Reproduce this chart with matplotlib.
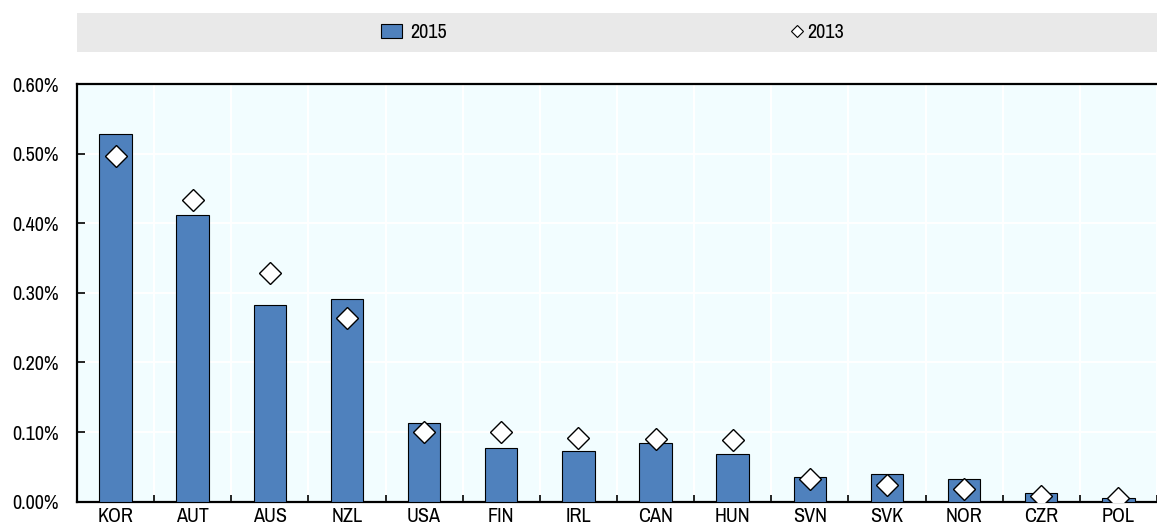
import matplotlib
matplotlib.use("Agg")
import matplotlib.pyplot as plt
from matplotlib.patches import Patch, Rectangle
from matplotlib.lines import Line2D
from matplotlib.ticker import FuncFormatter, MultipleLocator
import numpy as np

plt.rcParams['font.family'] = ['Archivo Narrow', 'Liberation Sans', 'DejaVu Sans']

countries = ['KOR', 'AUT', 'AUS', 'NZL', 'USA', 'FIN', 'IRL', 'CAN', 'HUN',
             'SVN', 'SVK', 'NOR', 'CZR', 'POL']
v2015 = [0.528, 0.412, 0.283, 0.291, 0.113, 0.077, 0.073, 0.084, 0.068,
         0.035, 0.040, 0.032, 0.012, 0.006]
v2013 = [0.496, 0.434, 0.328, 0.264, 0.100, 0.100, 0.091, 0.090, 0.089,
         0.032, 0.024, 0.018, 0.008, 0.006]

bar_color = '#4f81bd'
bg_color = '#f2fdff'
fs = 14.5

fig = plt.figure(figsize=(11.57, 5.27), dpi=100)
ax = fig.add_axes([0.0665, 0.048, 0.9335, 0.7925])
ax.set_facecolor(bg_color)

x = np.arange(len(countries))
ax.bar(x, v2015, width=0.42, color=bar_color, edgecolor='black', linewidth=0.8, zorder=3)
ax.plot(x, v2013, linestyle='none', marker='D', markersize=11.5,
        markerfacecolor='white', markeredgecolor='black', markeredgewidth=1.0, zorder=4)

ax.set_xlim(-0.5, len(countries) - 0.5)
ax.set_ylim(0, 0.6)
ax.yaxis.set_major_locator(MultipleLocator(0.1))
ax.yaxis.set_major_formatter(FuncFormatter(lambda v, p: f"{v:.2f}%"))
ax.set_xticks(x)
ax.set_xticklabels(countries)
ax.set_xticks(np.arange(len(countries) + 1) - 0.5, minor=True)

ax.tick_params(axis='x', which='major', length=0, labelsize=fs, pad=4)
ax.tick_params(axis='x', which='minor', direction='in', length=5, width=1.2, color='black')
ax.tick_params(axis='y', direction='in', length=6, width=1.2, labelsize=fs, pad=13)

ax.grid(True, axis='y', color='white', linewidth=1.5, zorder=0)
ax.grid(True, axis='x', which='minor', color='white', linewidth=1.5, zorder=0)
ax.set_axisbelow(True)

for side in ['left', 'bottom', 'top']:
    ax.spines[side].set_color('black')
    ax.spines[side].set_linewidth(1.6)
ax.spines['right'].set_visible(False)

# legend band
fig.patches.append(Rectangle((0.0665, 0.901), 0.9335, 0.075, transform=fig.transFigure,
                             facecolor='#e9e9e9', edgecolor='none', zorder=0))
h2015 = Patch(facecolor=bar_color, edgecolor='black', linewidth=0.8)
h2013 = Line2D([], [], linestyle='none', marker='D', markersize=6,
               markerfacecolor='white', markeredgecolor='black', markeredgewidth=0.8)
leg_y = 0.9385
fig.legend([h2015], ['2015'], loc='center left', bbox_to_anchor=(381 / 1157, leg_y),
           frameon=False, fontsize=fs, borderpad=0, borderaxespad=0,
           handlelength=1.05, handleheight=0.75, handletextpad=0.4)
fig.legend([h2013], ['2013'], loc='center left', bbox_to_anchor=(790 / 1157, leg_y),
           frameon=False, fontsize=fs, borderpad=0, borderaxespad=0,
           handlelength=0.65, handletextpad=0.2)

fig.savefig('out.png', dpi=100)
